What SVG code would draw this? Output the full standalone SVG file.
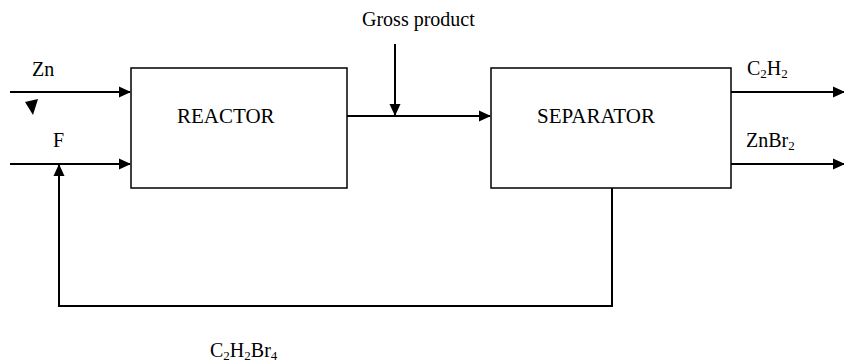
<svg xmlns="http://www.w3.org/2000/svg" width="844" height="364" viewBox="0 0 844 364">
<style>
text{font-family:"Liberation Serif","Times New Roman",serif;font-size:20px;fill:#000}
.big{font-size:21px}
.sub{font-size:13px}
.box{fill:#fff;stroke:#000;stroke-width:1.5}
.ln{fill:none;stroke:#000;stroke-width:2}
</style>
<defs>
<marker id="ah" markerWidth="12" markerHeight="12" refX="11" refY="5.5" orient="auto" markerUnits="userSpaceOnUse" viewBox="0 0 12 11">
<path d="M0,0 L12,5.5 L0,11 Z" fill="#000"/>
</marker>
</defs>
<rect width="844" height="364" fill="#fff"/>
<g id="connectors">
<line class="ln" x1="10" y1="92" x2="130" y2="92" marker-end="url(#ah)"/>
<line class="ln" x1="10" y1="164" x2="130" y2="164" marker-end="url(#ah)"/>
<line class="ln" x1="347" y1="116" x2="490" y2="116" marker-end="url(#ah)"/>
<line class="ln" x1="395" y1="44" x2="395" y2="115" marker-end="url(#ah)"/>
<line class="ln" x1="731" y1="92" x2="844" y2="92" marker-end="url(#ah)"/>
<line class="ln" x1="731" y1="164" x2="844" y2="164" marker-end="url(#ah)"/>
<polyline class="ln" points="612,188 612,306 59,306 59,165" marker-end="url(#ah)"/>
<polygon points="25,102 38,99 33,115" fill="#000"/>
</g>
<g id="reactor">
<rect class="box" x="131" y="68" width="216" height="120"/>
<text class="big" x="177" y="123">REACTOR</text>
</g>
<g id="separator">
<rect class="box" x="491" y="68" width="240" height="120"/>
<text class="big" x="537" y="123">SEPARATOR</text>
</g>
<g id="labels">
<text x="362" y="26" font-size="18">Gross product</text>
<text x="32" y="76">Zn</text>
<text x="53" y="147">F</text>
<text x="747" y="75">C<tspan class="sub" dy="3">2</tspan><tspan dy="-3">H</tspan><tspan class="sub" dy="3">2</tspan></text>
<text x="746" y="147">ZnBr<tspan class="sub" dy="3">2</tspan></text>
<text x="210" y="357">C<tspan class="sub" dy="3">2</tspan><tspan dy="-3">H</tspan><tspan class="sub" dy="3">2</tspan><tspan dy="-3">Br</tspan><tspan class="sub" dy="3">4</tspan></text>
</g>
</svg>
